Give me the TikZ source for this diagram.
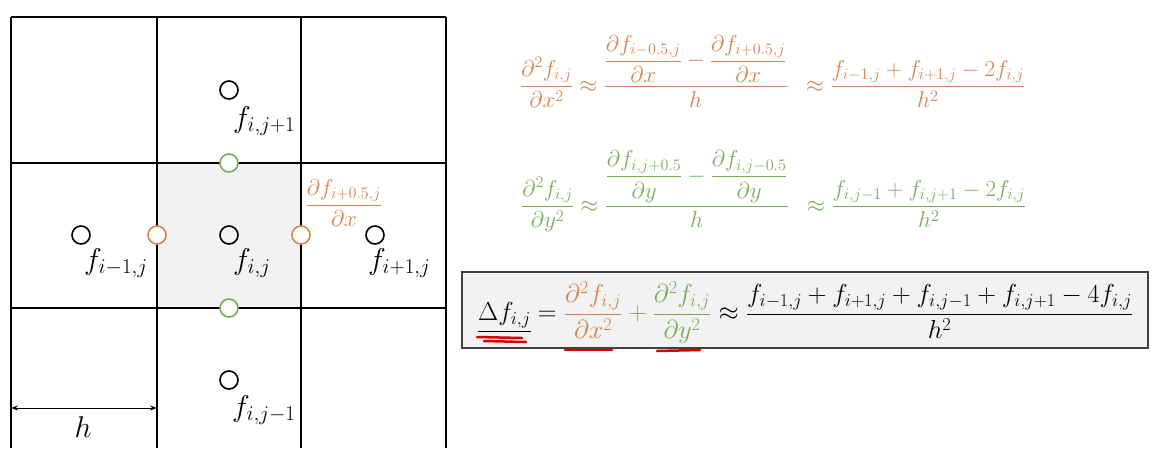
\RequirePackage{fix-cm}
\documentclass[tikz,border=0pt]{standalone}
\usepackage{amsmath}
\usetikzlibrary{arrows.meta}
\definecolor{orC}{RGB}{215,131,78}
\definecolor{grC}{RGB}{118,172,88}
\definecolor{cellgray}{RGB}{242,242,242}
\definecolor{boxborder}{RGB}{64,64,64}
\begin{document}
\begin{tikzpicture}[x=1pt,y=-1pt,
  gridline/.style={line width=2pt,black},
  pt/.style={circle,draw,line width=1.6pt,minimum size=18pt,inner sep=0pt},
  lbl/.style={inner sep=0pt,anchor=base west,font=\fontsize{30}{34}\selectfont},
  eq/.style={inner sep=0pt,anchor=base west,font=\fontsize{23}{27}\selectfont},
  redmark/.style={draw=red!85!black,line width=2.5pt,line cap=round}]
\useasboundingbox (0,0) rectangle (1152,448);
% grid
\fill[cellgray] (157,163) rectangle (301,308);
\foreach \x in {11,157,301,446} \draw[gridline] (\x,17) -- (\x,448);
\foreach \y in {17,163,308} \draw[gridline] (11,\y) -- (446,\y);
% points
\node[pt] (c)  at (229,235) {};
\node[pt] (up) at (229,90) {};
\node[pt] (dn) at (229,380) {};
\node[pt] (lf) at (81,235) {};
\node[pt] (rt) at (375,235) {};
\node[pt,draw=orC,fill=white] (ol) at (157,235) {};
\node[pt,draw=orC,fill=white] (or) at (301,235) {};
\node[pt,draw=grC,fill=white] (gu) at (229,163) {};
\node[pt,draw=grC,fill=white] (gd) at (229,308) {};
% labels
\node[lbl] (lup) at (233,127) {$f_{i,j+1}$};
\node[lbl] (lc)  at (233,269) {$f_{i,j}$};
\node[lbl] (llf) at (84,269)  {$f_{i-1,j}$};
\node[lbl] (lrt) at (368,269) {$f_{i+1,j}$};
\node[lbl] (ldn) at (232,416) {$f_{i,j-1}$};
\node[eq,anchor=base,text=orC] (dfr) at (344,211) {$\dfrac{\partial f_{i+0.5,j}}{\partial x}$};
% h arrow
\coordinate (ha) at (11,408);
\coordinate (hb) at (157,408);
\draw[{Stealth[length=7pt,width=5pt]}-{Stealth[length=7pt,width=5pt]},line width=0.9pt] (ha) -- (hb);
\node[lbl,anchor=base] (hl) at (83,437) {$h$};
% equations
\node[eq,text=orC] (e1) at (520,92) {$\displaystyle \frac{\partial^2 f_{i,j}}{\partial x^2} \approx \frac{\dfrac{\partial f_{i-0.5,j}}{\partial x} - \dfrac{\partial f_{i+0.5,j}}{\partial x}}{h} \hspace{12pt} \approx \frac{f_{i-1,j}+f_{i+1,j}-2f_{i,j}}{h^2}$};
\node[eq,text=grC] (e2) at (521,212) {$\displaystyle \frac{\partial^2 f_{i,j}}{\partial y^2} \approx \frac{\dfrac{\partial f_{i,j+0.5}}{\partial y} - \dfrac{\partial f_{i,j-0.5}}{\partial y}}{h} \hspace{12pt} \approx \frac{f_{i,j-1}+f_{i,j+1}-2f_{i,j}}{h^2}$};
\node[draw=boxborder,line width=1.5pt,fill=cellgray,minimum width=686pt,minimum height=76pt,inner sep=0pt] (box) at (805,310) {};
\node[eq,font=\fontsize{26}{30}\selectfont] (e3) at (478,320.5) {$\displaystyle \underline{\Delta f_{i,j}} = {\color{orC}\frac{\partial^2 f_{i,j}}{\partial x^2}} \mathbin{\color{orC}+} {\color{grC}\frac{\partial^2 f_{i,j}}{\partial y^2}} \approx \frac{f_{i-1,j}+f_{i+1,j}+f_{i,j-1}+f_{i,j+1}-4f_{i,j}}{h^2}$};
% red marks
\coordinate (r1a) at (477,337); \coordinate (r1b) at (522,338);
\draw[redmark] (r1a) -- (r1b);
\draw[redmark] (484,341) -- (526,342);
\coordinate (r2a) at (565,350); \coordinate (r2b) at (612,350);
\draw[redmark] (r2a) -- (r2b);
\coordinate (r3a) at (657,351); \coordinate (r3b) at (700,350);
\draw[redmark] (r3a) -- (r3b);
\end{tikzpicture}
\end{document}
